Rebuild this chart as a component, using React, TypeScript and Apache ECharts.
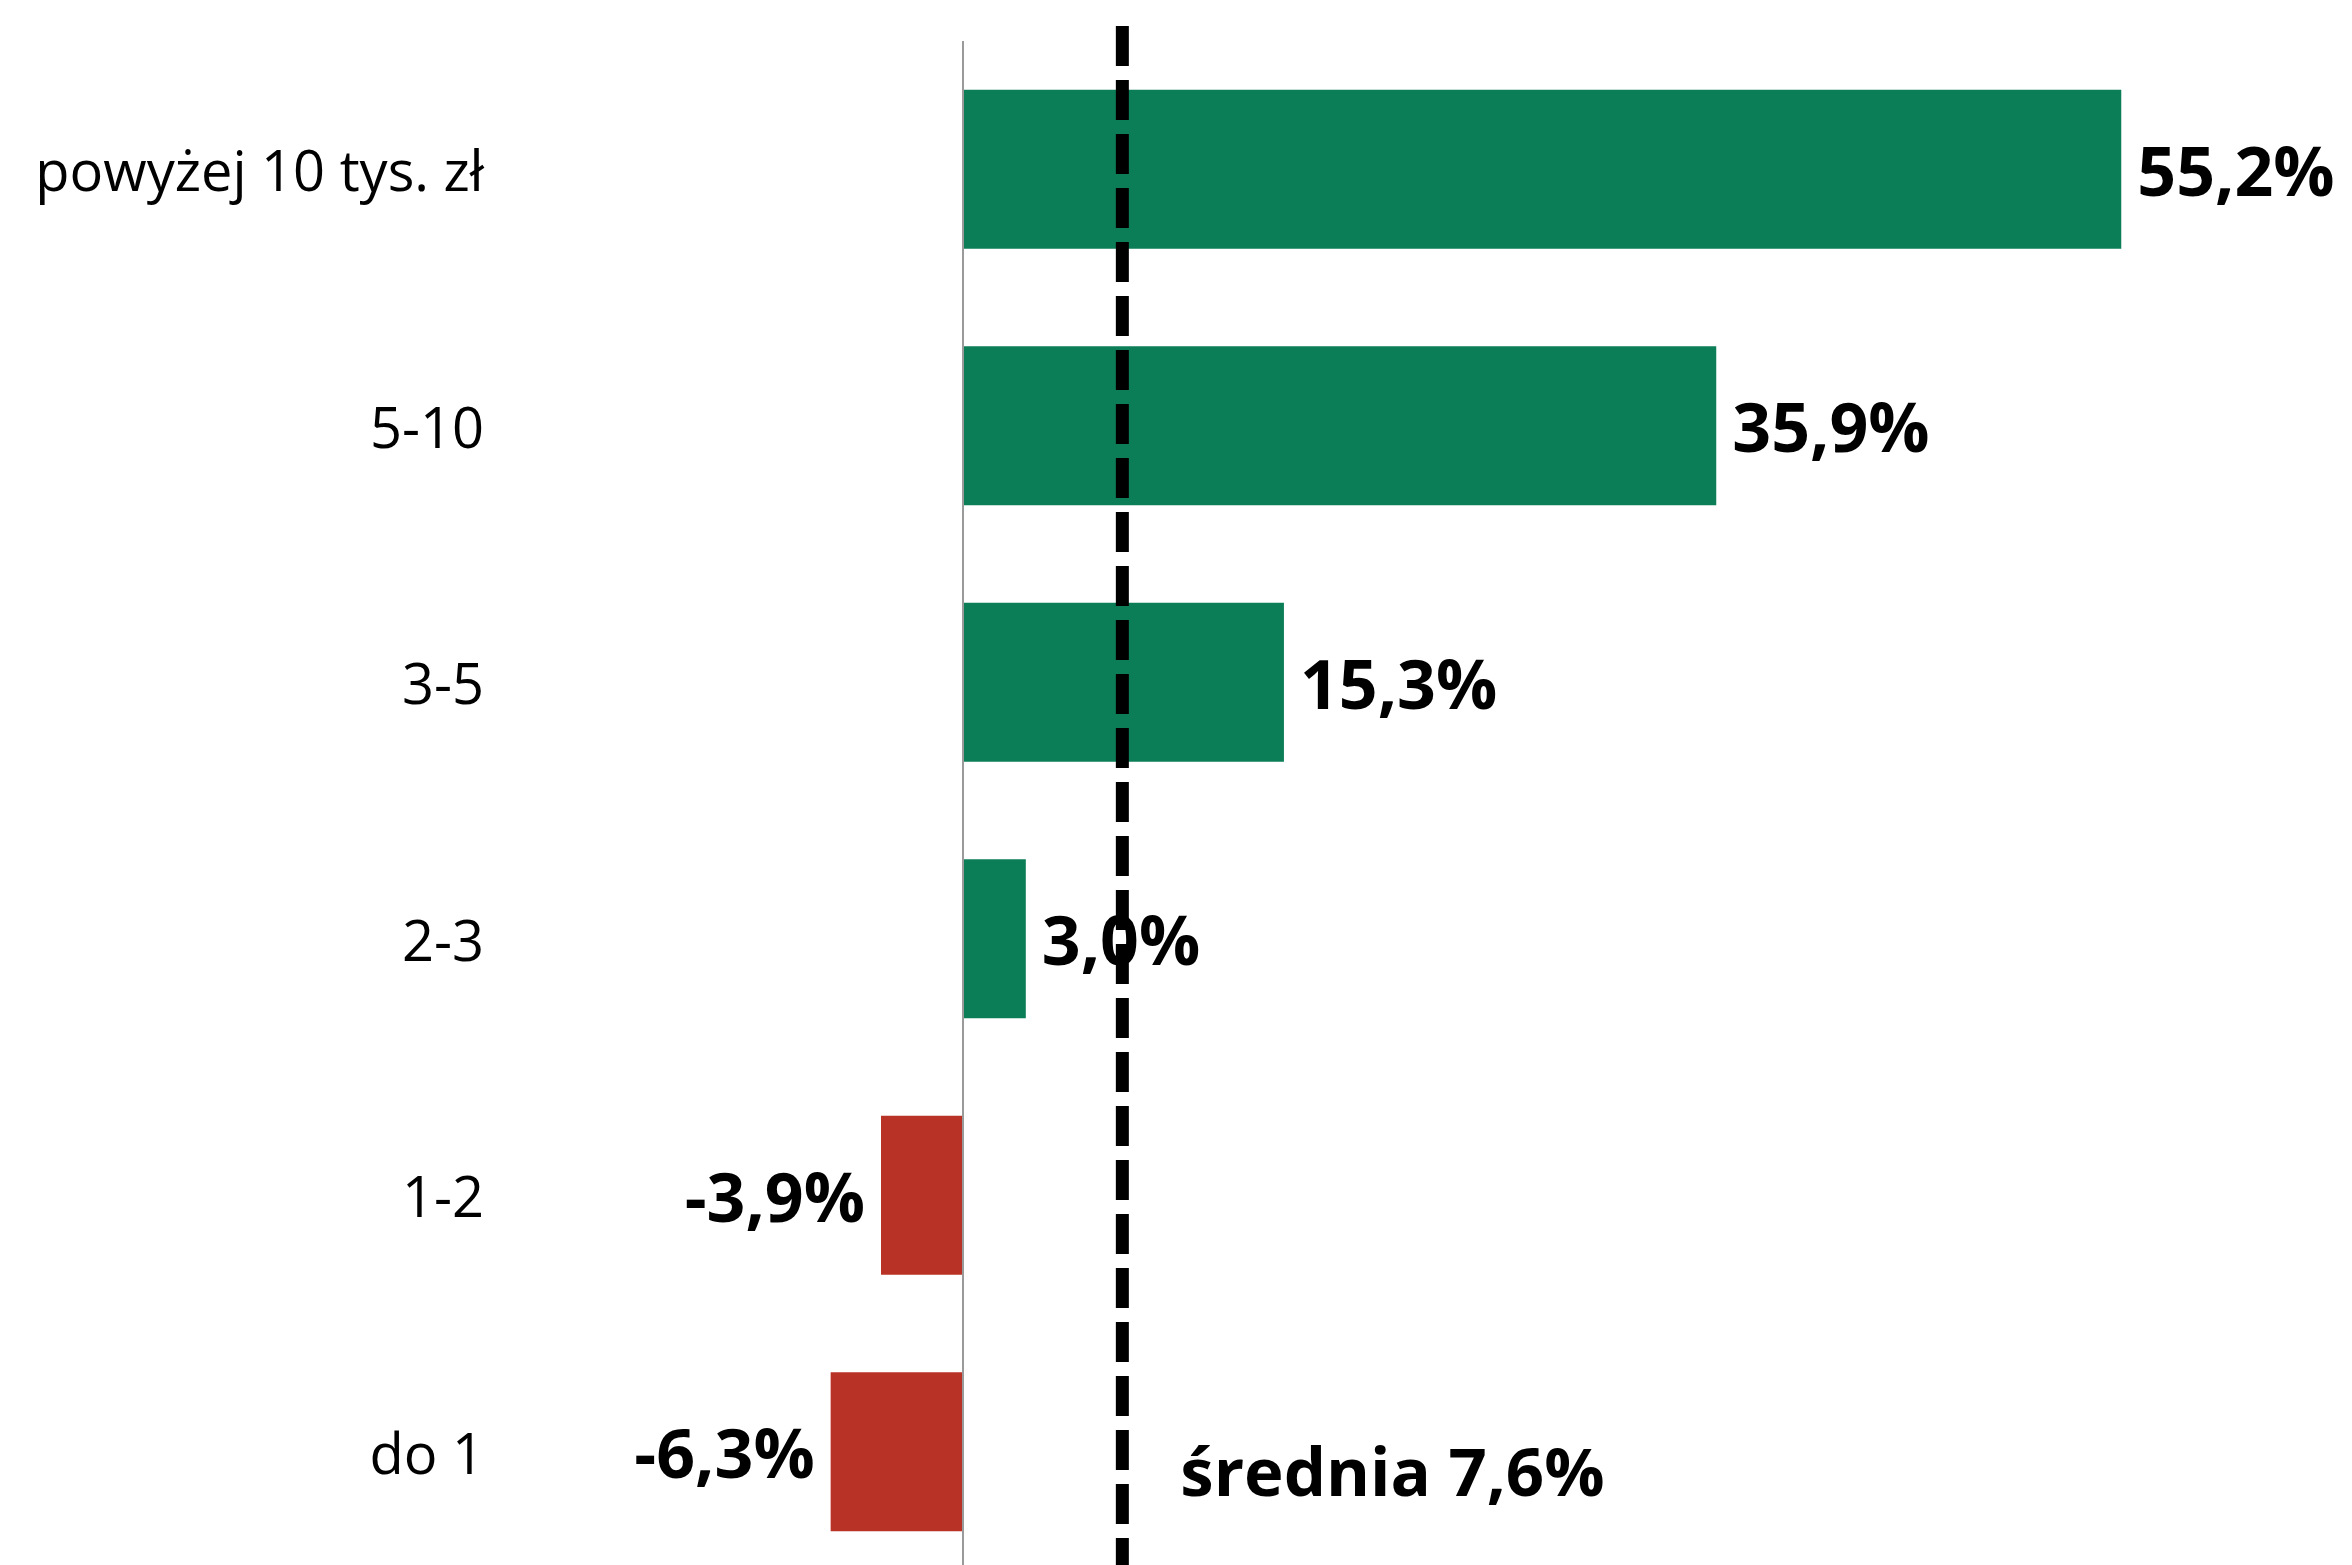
import React, { useEffect, useRef } from "react";
import * as echarts from "echarts";

const categories = ["powyżej 10 tys. zł", "5-10", "3-5", "2-3", "1-2", "do 1"];
const values = [55.2, 35.9, 15.3, 3.0, -3.9, -6.3];
const averageValue = 7.6;
const averageLabel = "średnia 7,6%";

const GREEN = "#0C7E57";
const RED = "#B83226";
const FONT = "'Open Sans', 'Noto Sans', sans-serif";

const fmt = (v: number) => v.toFixed(1).replace(".", ",") + "%";

export default function App() {
  const ref = useRef<HTMLDivElement>(null);
  useEffect(() => {
    if (!ref.current) return;
    const chart = echarts.init(ref.current, null, { renderer: "svg" });
    chart.setOption({
      animation: false,
      backgroundColor: "#ffffff",
      grid: { left: 753, right: 130, top: 41, height: 1539, containLabel: false },
      xAxis: {
        type: "value",
        min: -10,
        max: 60,
        show: false,
        splitLine: { show: false },
      },
      yAxis: {
        type: "category",
        data: categories,
        inverse: true,
        axisLine: { show: false },
        axisTick: { show: false },
        axisLabel: {
          margin: 269,
          fontFamily: FONT,
          fontSize: 56,
          color: "#000",
        },
      },
      series: [
        {
          type: "bar",
          barCategoryGap: "38%",
          data: values.map((v) => ({
            value: v,
            itemStyle: { color: v >= 0 ? GREEN : RED },
            label: { position: v >= 0 ? "right" : "left" },
          })),
          label: {
            show: true,
            distance: 16,
            formatter: (p: any) => fmt(p.value),
            fontFamily: FONT,
            fontWeight: "bold",
            fontSize: 68,
            color: "#000",
          },
          markLine: {
            silent: true,
            symbol: "none",
            label: { show: false },
            lineStyle: { color: "#9a9a9a", width: 2, type: "solid" },
            data: [{ xAxis: 0 }],
          },
        },
      ],
    });
    const x = chart.convertToPixel({ xAxisIndex: 0 }, averageValue) as number;
    chart.setOption({
      graphic: [
        {
          type: "line",
          shape: { x1: x, y1: 26, x2: x, y2: 1600 },
          style: { stroke: "#000", lineWidth: 13, lineDash: [40, 14] },
          z: 10,
        },
        {
          type: "text",
          x: x + 58,
          y: 1470,
          style: {
            text: averageLabel,
            fontFamily: FONT,
            fontWeight: "bold",
            fontSize: 67,
            fill: "#000",
            verticalAlign: "middle",
            align: "left",
          },
          z: 10,
        },
      ],
    });
    return () => chart.dispose();
  }, []);
  return (
    <div
      ref={ref}
      style={{ position: "fixed", left: 0, top: 0, width: 2352, height: 1600 }}
    />
  );
}
